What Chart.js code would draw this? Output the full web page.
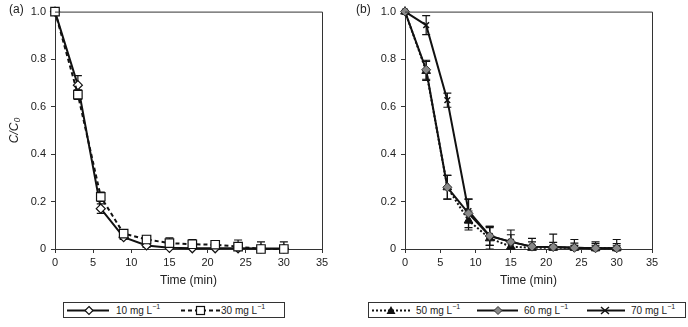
<!DOCTYPE html>
<html><head><meta charset="utf-8">
<script src="https://cdn.jsdelivr.net/npm/chart.js@4/dist/chart.umd.min.js"></script>
<style>
html,body{margin:0;padding:0;background:#fff;width:688px;height:327px;overflow:hidden;font-family:"Liberation Sans",Arial,sans-serif;color:#222;}
.wrap{position:absolute;top:0;height:290px;width:344px;}
.lab{position:absolute;font-size:12px;}
.box{position:absolute;top:302px;height:16px;border:1px solid #333;box-sizing:border-box;}
.it{position:absolute;top:302px;height:17px;line-height:17px;font-size:10px;white-space:nowrap;}
.it sup{font-size:7px;vertical-align:top;line-height:10px;}
svg{position:absolute;top:302px;}
</style></head><body>
<div class="wrap" style="left:0"><canvas id="ca"></canvas></div>
<div class="wrap" style="left:344px"><canvas id="cb"></canvas></div>
<div class="lab" style="left:9px;top:2px">(a)</div>
<div class="lab" style="left:356px;top:2px">(b)</div>

<div class="box" style="left:63px;width:222px"></div>
<svg width="44" height="17" style="left:67px"><line x1="0" y1="8.5" x2="42" y2="8.5" stroke="#111" stroke-width="2"/><polygon points="22,4.5 26,8.5 22,12.5 18,8.5" fill="#fff" stroke="#111" stroke-width="1.2"/></svg>
<div class="it" style="left:116px">10 mg L<sup>−1</sup></div>
<svg width="40" height="17" style="left:181px"><line x1="0" y1="8.5" x2="39" y2="8.5" stroke="#111" stroke-width="2" stroke-dasharray="4,3"/><rect x="15.5" y="4.5" width="8" height="8" fill="#fff" stroke="#111" stroke-width="1.2"/></svg>
<div class="it" style="left:221px">30 mg L<sup>−1</sup></div>

<div class="box" style="left:368px;width:318px"></div>
<svg width="40" height="17" style="left:372px"><line x1="0" y1="8.5" x2="38" y2="8.5" stroke="#111" stroke-width="2" stroke-dasharray="2,2"/><polygon points="19,4 23.5,12 14.5,12" fill="#111"/></svg>
<div class="it" style="left:416px">50 mg L<sup>−1</sup></div>
<svg width="42" height="17" style="left:477px"><line x1="0" y1="8.5" x2="41" y2="8.5" stroke="#111" stroke-width="2"/><polygon points="21,4.5 25,8.5 21,12.5 17,8.5" fill="#888" stroke="#333" stroke-width="1"/></svg>
<div class="it" style="left:524px">60 mg L<sup>−1</sup></div>
<svg width="40" height="17" style="left:587px"><line x1="0" y1="8.5" x2="38" y2="8.5" stroke="#111" stroke-width="2"/><path d="M14,5 L22,12 M22,5 L14,12" stroke="#111" stroke-width="1.5"/></svg>
<div class="it" style="left:631px">70 mg L<sup>−1</sup></div>

<script>
const times = [0, 3, 6, 9, 12, 15, 18, 21, 24, 27, 30];
const a10 = [1.0, 0.69, 0.17, 0.05, 0.015, 0.005, 0.003, 0.003, 0.003, 0.002, 0.002];
const a10Err = [0, 0.04, 0.02, 0.01, 0.008, 0.005, 0.005, 0.005, 0.005, 0.005, 0.005];
const a30 = [1.0, 0.65, 0.22, 0.065, 0.04, 0.025, 0.02, 0.018, 0.01, 0.0, 0.0];
const a30Err = [0, 0.02, 0.02, 0.015, 0.015, 0.022, 0.02, 0.017, 0.028, 0.03, 0.03];
const b50 = [1.0, 0.75, 0.26, 0.12, 0.045, 0.01, 0.005, 0.005, 0.005, 0.003, 0.003];
const b50Err = [0, 0.04, 0.05, 0.04, 0.045, 0.02, 0.01, 0.01, 0.01, 0.01, 0.01];
const b60 = [1.0, 0.755, 0.26, 0.15, 0.055, 0.03, 0.01, 0.008, 0.005, 0.003, 0.003];
const b60Err = [0, 0.04, 0.05, 0.06, 0.04, 0.03, 0.02, 0.02, 0.02, 0.02, 0.02];
const b70 = [1.0, 0.943, 0.627, 0.16, 0.055, 0.03, 0.01, 0.008, 0.005, 0.003, 0.003];
const b70Err = [0, 0.04, 0.03, 0.05, 0.04, 0.05, 0.035, 0.055, 0.035, 0.027, 0.037];
const xTicks = [0, 5, 10, 15, 20, 25, 30, 35];
const yTicks = [0, 0.2, 0.4, 0.6, 0.8, 1.0];

const FONT = "'Liberation Sans', Arial, sans-serif";
Chart.defaults.font.family = FONT;
Chart.defaults.color = '#222';

function pts(vals){ return times.map((t,i)=>({x:t,y:vals[i]})); }

const errPlugin = {
  id:'err',
  beforeDatasetsDraw(chart){
    const {ctx, chartArea:a, scales:{x,y}} = chart;
    ctx.save();
    ctx.beginPath(); ctx.rect(a.left, a.top-2, a.right-a.left, a.bottom-a.top+2); ctx.clip();
    ctx.strokeStyle = '#111'; ctx.lineWidth = 1.2;
    chart.data.datasets.forEach(ds=>{
      if(!ds.err) return;
      ds.data.forEach((p,i)=>{
        const e = ds.err[i]; if(!e) return;
        const px = x.getPixelForValue(p.x);
        const y1 = y.getPixelForValue(p.y+e), y2 = y.getPixelForValue(p.y-e);
        ctx.beginPath();
        ctx.moveTo(px,y1); ctx.lineTo(px,y2);
        ctx.moveTo(px-4,y1); ctx.lineTo(px+4,y1);
        ctx.moveTo(px-4,y2); ctx.lineTo(px+4,y2);
        ctx.stroke();
      });
    });
    ctx.restore();
  },
  afterDraw(chart){
    const {ctx, chartArea:a} = chart;
    ctx.save(); ctx.strokeStyle='#333'; ctx.lineWidth=1;
    ctx.beginPath();
    ctx.moveTo(a.left, a.top+0.5); ctx.lineTo(a.right+0.5, a.top+0.5); ctx.lineTo(a.right+0.5, a.bottom);
    ctx.stroke(); ctx.restore();
  }
};

function makeChart(id, datasets, yWidth, rightPad, showTitle){
  datasets.forEach(d=>{ d.clip = false; });
  return new Chart(document.getElementById(id), {
    type:'line',
    data:{datasets},
    plugins:[errPlugin],
    options:{
      responsive:true, maintainAspectRatio:false, animation:false,
      layout:{padding:{top:9,right:rightPad,left:0,bottom:0}},
      plugins:{legend:{display:false}, tooltip:{enabled:false}},
      scales:{
        x:{type:'linear', min:0, max:35,
          afterBuildTicks(s){ s.ticks = xTicks.map(v=>({value:v})); },
          afterFit(s){ s.height = 41; },
          grid:{display:true, drawOnChartArea:false, drawTicks:true, tickLength:4, color:'#333'},
          border:{color:'#333', width:1},
          ticks:{font:{size:11}, padding:3, maxRotation:0, color:'#222'},
          title:{display:true, text:'Time (min)', font:{size:12}, padding:{top:0,bottom:2}, color:'#222'}
        },
        y:{type:'linear', min:0, max:1,
          afterBuildTicks(s){ s.ticks = yTicks.map(v=>({value:v})); },
          afterFit(s){ s.width = yWidth; },
          grid:{display:true, drawOnChartArea:false, drawTicks:true, tickLength:4, color:'#333'},
          border:{color:'#333', width:1},
          ticks:{font:{size:11}, padding:5, color:'#222', callback:v=> v===0 ? '0' : v.toFixed(1)},
          title:{display:showTitle, text:'C/C₀', font:{size:12, style:'italic'}, padding:{top:7,bottom:0}, color:'#222'}
        }
      }
    }
  });
}

makeChart('ca', [
  {label:'10 mg L−1', order:2, data:pts(a10), err:a10Err, borderColor:'#111', borderWidth:2, pointStyle:'rectRot', pointRadius:4.5, pointBackgroundColor:'#fff', pointBorderColor:'#111', pointBorderWidth:1.2},
  {label:'30 mg L−1', order:1, data:pts(a30), err:a30Err, borderColor:'#111', borderWidth:2, borderDash:[4,3], pointStyle:'rect', pointRadius:6, pointBackgroundColor:'#fff', pointBorderColor:'#111', pointBorderWidth:1.2}
], 55, 22, true);

makeChart('cb', [
  {label:'50 mg L−1', order:3, data:pts(b50), err:b50Err, borderColor:'#111', borderWidth:2, borderDash:[2,2], pointStyle:'triangle', pointRadius:5, pointBackgroundColor:'#111', pointBorderColor:'#111', pointBorderWidth:1},
  {label:'60 mg L−1', order:1, data:pts(b60), err:b60Err, borderColor:'#111', borderWidth:2, pointStyle:'rectRot', pointRadius:4.5, pointBackgroundColor:'#888', pointBorderColor:'#333', pointBorderWidth:1},
  {label:'70 mg L−1', order:2, data:pts(b70), err:b70Err, borderColor:'#111', borderWidth:2, pointStyle:'crossRot', pointRadius:4, pointBorderColor:'#111', pointBorderWidth:1.5}
], 61, 36, false);
</script>
</body></html>
